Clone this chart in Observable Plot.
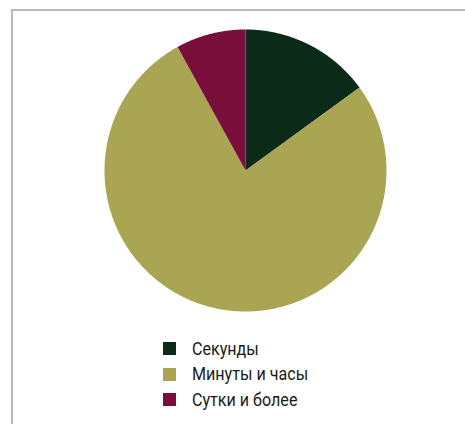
<!DOCTYPE html>
<html><head><meta charset="utf-8">
<script src="https://cdn.jsdelivr.net/npm/d3@7"></script>
<script src="https://cdn.jsdelivr.net/npm/@observablehq/plot@0.6"></script>
<style>
body{margin:0;background:#fff;width:465px;height:424px;overflow:hidden;position:relative;font-family:Roboto,sans-serif;}
#frame{position:absolute;left:11px;top:9px;right:-5px;bottom:-5px;border-left:2px solid #b9b9b9;border-top:2px solid #b9b9b9;}
#chart{position:absolute;left:0;top:0;}
#legend{position:absolute;left:163px;top:336px;}
.row{display:flex;align-items:center;height:25.5px;font-size:18.5px;color:#1a1a1a;white-space:nowrap;}
.sw{width:13px;height:13px;margin-right:16px;flex:none;}
.tx{display:inline-block;transform:scaleX(0.87);transform-origin:left center;}
</style></head>
<body>
<div id="frame"></div>
<div id="chart"></div>
<div id="legend"></div>
<script>
const categories = ["Секунды", "Минуты и часы", "Сутки и более"];
const values = [15, 77, 8];
const colors = ["#0b2a18", "#aaa553", "#7a0e3b"];

const data = categories.map((c, i) => ({category: c, value: values[i]}));
const arcs = d3.pie().sort(null).value(d => d.value).startAngle(0).endAngle(2 * Math.PI)(data);

function slice(a) {
  const pts = [[0, 0]];
  const n = Math.max(2, Math.ceil((a.endAngle - a.startAngle) / 0.01));
  for (let k = 0; k <= n; k++) {
    const t = a.startAngle + (a.endAngle - a.startAngle) * k / n;
    pts.push([Math.sin(t), Math.cos(t)]);
  }
  pts.push([0, 0]);
  return {type: "Feature", properties: {category: a.data.category}, geometry: {type: "Polygon", coordinates: [pts]}};
}
const features = arcs.map(slice);
const box = {type: "Polygon", coordinates: [[[-1,-1],[1,-1],[1,1],[-1,1],[-1,-1]]]};

const chart = Plot.plot({
  width: 465,
  height: 340,
  marginLeft: 104,
  marginRight: 79,
  marginTop: 29,
  marginBottom: 29,
  projection: {type: "reflect-y", domain: box},
  color: {domain: categories, range: colors},
  marks: [
    Plot.geo(features, {fill: d => d.properties.category, stroke: null})
  ]
});
document.getElementById("chart").appendChild(chart);

const legend = document.getElementById("legend");
categories.forEach((c, i) => {
  const row = document.createElement("div");
  row.className = "row";
  const sw = document.createElement("div");
  sw.className = "sw";
  sw.style.background = colors[i];
  const tx = document.createElement("span");
  tx.className = "tx";
  tx.textContent = c;
  row.appendChild(sw); row.appendChild(tx);
  legend.appendChild(row);
});
</script>
</body></html>
